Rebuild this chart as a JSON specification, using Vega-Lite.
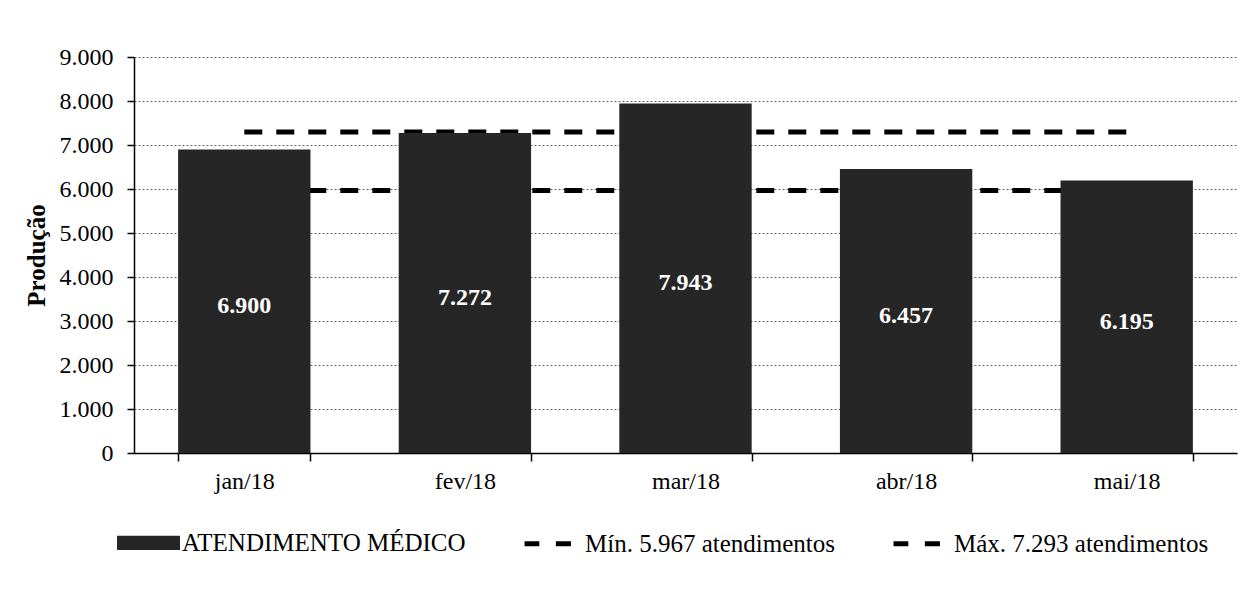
{
  "$schema": "https://vega.github.io/schema/vega-lite/v6.json",
  "width": 1103,
  "height": 396,
  "autosize": {"type": "none"},
  "padding": {"left": 134, "top": 57, "right": 20, "bottom": 139},
  "background": "#ffffff",
  "config": {
    "locale": {"number": {"decimal": ",", "thousands": ".", "grouping": [3], "currency": ["R$", ""]}},
    "view": {"stroke": null},
    "font": "Liberation Serif",
    "axis": {"labelFont": "Liberation Serif", "titleFont": "Liberation Serif", "labelColor": "#000000", "titleColor": "#000000"},
    "legend": {"labelFont": "Liberation Serif", "labelFontSize": 25, "labelColor": "#000000", "labelLimit": 0},
    "text": {"font": "Liberation Serif"}
  },
  "data": {
    "values": [
      {"mes": "jan/18", "valor": 6900, "min": 5967, "max": 7293},
      {"mes": "fev/18", "valor": 7272, "min": 5967, "max": 7293},
      {"mes": "mar/18", "valor": 7943, "min": 5967, "max": 7293},
      {"mes": "abr/18", "valor": 6457, "min": 5967, "max": 7293},
      {"mes": "mai/18", "valor": 6195, "min": 5967, "max": 7293}
    ]
  },
  "encoding": {
    "x": {
      "field": "mes",
      "type": "nominal",
      "sort": null,
      "scale": {"paddingInner": 0.4, "paddingOuter": 0.2},
      "axis": {
        "title": null,
        "labelAngle": 0,
        "labelFont": "Liberation Serif",
        "labelFontSize": 24,
        "labelColor": "#000000",
        "labelPadding": 8,
        "domainColor": "#000000",
        "domainWidth": 1.5,
        "tickColor": "#000000",
        "tickWidth": 1.5,
        "tickSize": 8,
        "tickBand": "extent",
        "grid": false
      }
    }
  },
  "layer": [
    {
      "layer": [
        {
          "mark": {"type": "line", "strokeDash": [18, 14], "strokeWidth": 5, "strokeCap": "butt"},
          "encoding": {
            "y": {
              "field": "min", "type": "quantitative",
              "scale": {"domain": [0, 9000], "nice": false},
              "axis": {
                "title": "Produção", "titleFont": "Liberation Serif", "titleFontSize": 25, "titleFontWeight": "bold", "titleColor": "#000000", "titlePadding": 10,
                "values": [0, 1000, 2000, 3000, 4000, 5000, 6000, 7000, 8000, 9000],
                "labelExpr": "replace(format(datum.value, ','), ',', '.')",
                "labelFont": "Liberation Serif", "labelFontSize": 24, "labelColor": "#000000", "labelPadding": 14,
                "tickSize": 7, "tickColor": "#000000", "tickWidth": 1.5,
                "domainColor": "#000000", "domainWidth": 1.5,
                "grid": true, "gridColor": "#666666", "gridDash": [2, 2], "gridWidth": 1
              }
            },
            "color": {
              "datum": "Mín. 5.967 atendimentos",
              "scale": {
                "domain": ["ATENDIMENTO MÉDICO", "Mín. 5.967 atendimentos", "Máx. 7.293 atendimentos"],
                "range": ["#262626", "#000000", "#000000"]
              },
              "legend": {
                "title": null, "orient": "none", "direction": "horizontal",
                "legendX": -17, "legendY": 454, "padding": 0, "columnPadding": 48,
                "labelFont": "Liberation Serif", "labelFontSize": 25, "labelColor": "#000000", "labelOffset": 2, "labelLimit": 0,
                "symbolSize": 3364, "symbolStrokeWidth": 0,
                "encode": {
                  "symbols": {
                    "update": {
                      "shape": {"signal": "datum.value === 'ATENDIMENTO MÉDICO' ? 'M-1,-0.16H1V0.16H-1Z' : 'M-0.93,0H-0.42M0.15,0H0.67'"},
                      "fill": {"signal": "datum.value === 'ATENDIMENTO MÉDICO' ? '#262626' : 'transparent'"},
                      "stroke": {"signal": "datum.value === 'ATENDIMENTO MÉDICO' ? 'transparent' : '#000000'"},
                      "strokeWidth": {"value": 5},
                      "strokeDash": {"value": []},
                      "opacity": {"value": 1}
                    }
                  },
                  "labels": {"update": {"font": {"value": "Liberation Serif"}}}
                }
              }
            }
          }
        },
        {
          "mark": {"type": "line", "strokeDash": [18, 14], "strokeWidth": 5, "strokeCap": "butt"},
          "encoding": {
            "y": {
              "field": "max", "type": "quantitative",
              "scale": {"domain": [0, 9000], "nice": false},
              "axis": {
                "title": "Produção", "titleFont": "Liberation Serif", "titleFontSize": 25, "titleFontWeight": "bold", "titleColor": "#000000", "titlePadding": 10,
                "values": [0, 1000, 2000, 3000, 4000, 5000, 6000, 7000, 8000, 9000],
                "labelExpr": "replace(format(datum.value, ','), ',', '.')",
                "labelFont": "Liberation Serif", "labelFontSize": 24, "labelColor": "#000000", "labelPadding": 14,
                "tickSize": 7, "tickColor": "#000000", "tickWidth": 1.5,
                "domainColor": "#000000", "domainWidth": 1.5,
                "grid": true, "gridColor": "#666666", "gridDash": [2, 2], "gridWidth": 1
              }
            },
            "color": {
              "datum": "Máx. 7.293 atendimentos",
              "scale": {
                "domain": ["ATENDIMENTO MÉDICO", "Mín. 5.967 atendimentos", "Máx. 7.293 atendimentos"],
                "range": ["#262626", "#000000", "#000000"]
              },
              "legend": {
                "title": null, "orient": "none", "direction": "horizontal",
                "legendX": -17, "legendY": 454, "padding": 0, "columnPadding": 48,
                "labelFont": "Liberation Serif", "labelFontSize": 25, "labelColor": "#000000", "labelOffset": 2, "labelLimit": 0,
                "symbolSize": 3364, "symbolStrokeWidth": 0,
                "encode": {
                  "symbols": {
                    "update": {
                      "shape": {"signal": "datum.value === 'ATENDIMENTO MÉDICO' ? 'M-1,-0.16H1V0.16H-1Z' : 'M-0.93,0H-0.42M0.15,0H0.67'"},
                      "fill": {"signal": "datum.value === 'ATENDIMENTO MÉDICO' ? '#262626' : 'transparent'"},
                      "stroke": {"signal": "datum.value === 'ATENDIMENTO MÉDICO' ? 'transparent' : '#000000'"},
                      "strokeWidth": {"value": 5},
                      "strokeDash": {"value": []},
                      "opacity": {"value": 1}
                    }
                  },
                  "labels": {"update": {"font": {"value": "Liberation Serif"}}}
                }
              }
            }
          }
        },
        {
          "mark": {"type": "bar"},
          "encoding": {
            "y": {
              "field": "valor", "type": "quantitative",
              "scale": {"domain": [0, 9000], "nice": false},
              "axis": {
                "title": "Produção", "titleFont": "Liberation Serif", "titleFontSize": 25, "titleFontWeight": "bold", "titleColor": "#000000", "titlePadding": 10,
                "values": [0, 1000, 2000, 3000, 4000, 5000, 6000, 7000, 8000, 9000],
                "labelExpr": "replace(format(datum.value, ','), ',', '.')",
                "labelFont": "Liberation Serif", "labelFontSize": 24, "labelColor": "#000000", "labelPadding": 14,
                "tickSize": 7, "tickColor": "#000000", "tickWidth": 1.5,
                "domainColor": "#000000", "domainWidth": 1.5,
                "grid": true, "gridColor": "#666666", "gridDash": [2, 2], "gridWidth": 1
              }
            },
            "color": {
              "datum": "ATENDIMENTO MÉDICO",
              "scale": {
                "domain": ["ATENDIMENTO MÉDICO", "Mín. 5.967 atendimentos", "Máx. 7.293 atendimentos"],
                "range": ["#262626", "#000000", "#000000"]
              },
              "legend": {
                "title": null, "orient": "none", "direction": "horizontal",
                "legendX": -17, "legendY": 454, "padding": 0, "columnPadding": 48,
                "labelFont": "Liberation Serif", "labelFontSize": 25, "labelColor": "#000000", "labelOffset": 2, "labelLimit": 0,
                "symbolSize": 3364, "symbolStrokeWidth": 0,
                "encode": {
                  "symbols": {
                    "update": {
                      "shape": {"signal": "datum.value === 'ATENDIMENTO MÉDICO' ? 'M-1,-0.16H1V0.16H-1Z' : 'M-0.93,0H-0.42M0.15,0H0.67'"},
                      "fill": {"signal": "datum.value === 'ATENDIMENTO MÉDICO' ? '#262626' : 'transparent'"},
                      "stroke": {"signal": "datum.value === 'ATENDIMENTO MÉDICO' ? 'transparent' : '#000000'"},
                      "strokeWidth": {"value": 5},
                      "strokeDash": {"value": []},
                      "opacity": {"value": 1}
                    }
                  },
                  "labels": {"update": {"font": {"value": "Liberation Serif"}}}
                }
              }
            }
          }
        }
      ]
    },
    {
      "mark": {"type": "text", "color": "#ffffff", "font": "Liberation Serif", "fontSize": 24, "fontWeight": "bold", "baseline": "middle", "dy": 5},
      "encoding": {
        "y": {"field": "valor", "type": "quantitative", "scale": {"domain": [0, 18000], "nice": false}, "axis": null},
        "text": {"field": "valor", "type": "quantitative", "format": ","}
      }
    }
  ],
  "resolve": {"scale": {"y": "independent"}}
}
